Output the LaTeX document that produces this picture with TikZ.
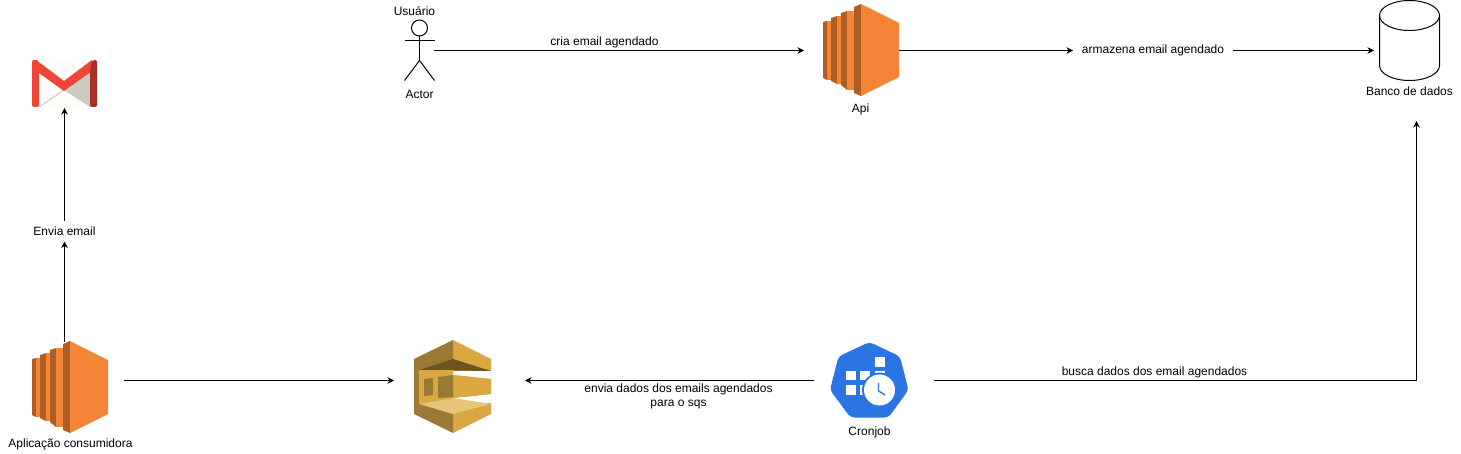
\documentclass[tikz,border=0pt]{standalone}
\usepackage{fontspec}
\setmainfont{Liberation Sans}
\usetikzlibrary{arrows.meta}

\definecolor{ecLight}{HTML}{F58536}
\definecolor{ecDark}{HTML}{AE5E24}
\definecolor{sqsLight}{HTML}{DBA741}
\definecolor{sqsDark}{HTML}{9B7A35}
\definecolor{sqsDeep}{HTML}{6F5423}
\definecolor{sqsPale}{HTML}{E8C47A}
\definecolor{gmRed}{HTML}{EF4537}
\definecolor{gmDark}{HTML}{A92F27}
\definecolor{gmBody}{HTML}{FFFDF8}
\definecolor{gmGrey}{HTML}{CBCCBE}
\definecolor{k8sBlue}{HTML}{2A75E2}

\tikzset{
	txt/.style={font=\fontsize{12}{14}\selectfont, align=center, inner sep=0pt},
	box/.style={inner sep=0pt, outer sep=0pt},
	flow/.style={-{Stealth[length=6.5pt,width=6.5pt]}, line width=1pt},
	ecicon/.pic={
		% slabs from the back to the front
		\fill[ecDark] (0,18) -- (4,17) -- (4,76) -- (0,74) -- cycle;
		\fill[ecLight] (4,17) -- (8,17) -- (8,76) -- (4,76) -- cycle;
		\fill[ecDark] (8,14) -- (14,12) -- (14,80) -- (8,77) -- cycle;
		\fill[ecLight] (14,12) -- (18,12) -- (18,80) -- (14,80) -- cycle;
		\fill[ecDark] (18,9) -- (24,7) -- (24,86) -- (18,81) -- cycle;
		\fill[ecLight] (24,7) -- (31,7) -- (31,86) -- (24,86) -- cycle;
		\fill[ecDark] (31,3) -- (38,0) -- (38,92) -- (31,89) -- cycle;
		\fill[ecLight] (38,0) -- (76,19) -- (76,73) -- (38,92) -- cycle;
	}
}

\begin{document}
\begin{tikzpicture}[x=1pt, y=-1pt]
	\useasboundingbox (0,0) rectangle (1461,454);
	
	% boxes round the icons, the connectors end on them
	\node[box, minimum width=119pt, minimum height=78pt] (app) at (64.5,380.5) {};
	\node[box, minimum width=131pt, minimum height=78pt] (sqs) at (459.5,380.5) {};
	\node[box, minimum width=120pt, minimum height=78pt] (cron) at (874,380.5) {};
	\node[box, minimum width=95pt, minimum height=92pt] (api) at (851.5,50.5) {};
	\node[box, minimum width=29pt, minimum height=60pt] (actor) at (419.5,50.5) {};
	\node[box, minimum width=85pt, minimum height=141pt] (banco) at (1416.5,50.5) {};
	\node[box, minimum width=65pt, minimum height=48pt] (gmail) at (64.5,84) {};
	
	% labels
	\node[txt] (lblUsuario) at (414.5,11.5) {Usuário};
	\node[txt] (lblActor) at (419.5,94.5) {Actor};
	\node[txt] (lblCria) at (604.5,42) {cria email agendado};
	\node[txt] (lblApi) at (860.5,109) {Api};
	\node[box, minimum width=160pt, minimum height=20pt, font=\fontsize{12}{14}\selectfont] (lblArmazena) at (1153,50.5) {\raisebox{-1pt}{armazena email agendado}};
	\node[txt] (lblBanco) at (1409.5,91) {Banco de dados};
	\node[box, minimum width=60pt, minimum height=20pt, font=\fontsize{12}{14}\selectfont] (lblEnvia) at (64.5,231.5) {Envia email};
	\node[txt] (lblApp) at (70.5,444.5) {Aplicação consumidora};
	\node[txt] (lblDados) at (678.5,396.5) {envia dados dos emails agendados\\para o sqs};
	\node[txt] (lblBusca) at (1154.5,372) {busca dados dos email agendados};
	\node[txt] (lblCron) at (869.5,432) {Cronjob};
	
	% gmail
	\fill[gmBody, rounded corners=2pt] (32,60) rectangle (97,107);
	\fill[gmGrey] (64,90) -- (90,72) -- (90,107) -- cycle;
	\draw[gmGrey, line width=1pt] (64,90) -- (39,107);
	\fill[gmDark, rounded corners=2pt] (90,72) -- (90,62) -- (93,60) -- (97,60) -- (97,107) -- (90,107) -- cycle;
	\fill[gmRed, rounded corners=2pt] (32,107) -- (32,60) -- (36,60) -- (39,61) -- (39,107) -- cycle;
	\fill[gmRed] (36,60) -- (64,81) -- (92,60) -- (90,72.5) -- (64,91) -- (39,73) -- cycle;
	
	% the two orange icons
	\pic at (32,341) {ecicon};
	\pic at (823,4) {ecicon};
	
	% sqs
	\fill[sqsLight] (453,340) -- (491,359) -- (491,414) -- (453,433) -- cycle;
	\fill[sqsDark] (453,340) -- (414,359) -- (414,414) -- (453,433) -- cycle;
	\fill[sqsDeep] (419,370) -- (453,359) -- (491,371) -- cycle;
	\fill[white] (453,371) -- (491,371) -- (491,379) -- (453,375) -- cycle;
	\fill[white] (453,398) -- (491,394) -- (491,403) -- (453,402) -- cycle;
	\fill[sqsLight] (419,370) -- (453,370) -- (453,375) -- (491,379) -- (491,394) -- (453,398) -- (419,404) -- cycle;
	\fill[sqsDark] (424,379) -- (433,378) -- (433,395) -- (424,396) -- cycle;
	\fill[sqsDark] (438,377) -- (453,375) -- (453,397) -- (438,398) -- cycle;
	\fill[sqsPale] (419,404) -- (453,398) -- (491,404) -- (453,414) -- cycle;
	
	% cronjob
	\fill[k8sBlue, rounded corners=4pt] (869.5,342) -- (900,356.5) -- (908.5,390) -- (888.5,417.5) -- (850.5,417.5) -- (830,390) -- (838.5,356.5) -- cycle;
	\foreach \sx/\sy/\sw/\sh in {874.5/356.5/10.5/10, 845.5/370.5/10/9.5, 860/370.5/10/9.5, 845.5/385/10/10, 860/385/4/10, 874.5/370.5/10.5/5}{
		\fill[white] (\sx,\sy) rectangle ++(\sw,\sh);
	}
	\fill[k8sBlue] (879.5,390) circle (17.5pt);
	\fill[white] (879.5,390) circle (15.5pt);
	\draw[k8sBlue, line width=1.3pt] (878.5,383) -- (878.5,391) -- (885,395);
	
	% actor
	\draw[line width=1pt] (419.5,28) circle (8pt);
	\draw[line width=1pt] (419.5,36) -- (419.5,60.5);
	\draw[line width=1pt] (404.5,40.5) -- (434.5,40.5);
	\draw[line width=1pt] (404.5,80.5) -- (419.5,60.5) -- (434.5,80.5);
	
	% banco de dados
	\draw[line width=1pt] (1379.5,15.5) -- (1379.5,65.5) arc[start angle=180, end angle=360, x radius=30pt, y radius=15pt] -- (1439.5,15.5);
	\draw[line width=1pt] (1409.5,15.5) ellipse (30pt and 15pt);
	
	% connectors
	\draw[flow] (actor.east) -- (api.west);
	\draw[flow] (api.east) -- (lblArmazena.west);
	\draw[flow] (lblArmazena.east) -- (banco.west);
	\draw[flow] (cron.east) -| (banco.south);
	\draw[flow] (cron.west) -- (sqs.east);
	\draw[flow] (app.east) -- (sqs.west);
	\draw[flow] (app.north) -- (lblEnvia.south);
	\draw[flow] (lblEnvia.north) -- (gmail.south);
\end{tikzpicture}
\end{document}
